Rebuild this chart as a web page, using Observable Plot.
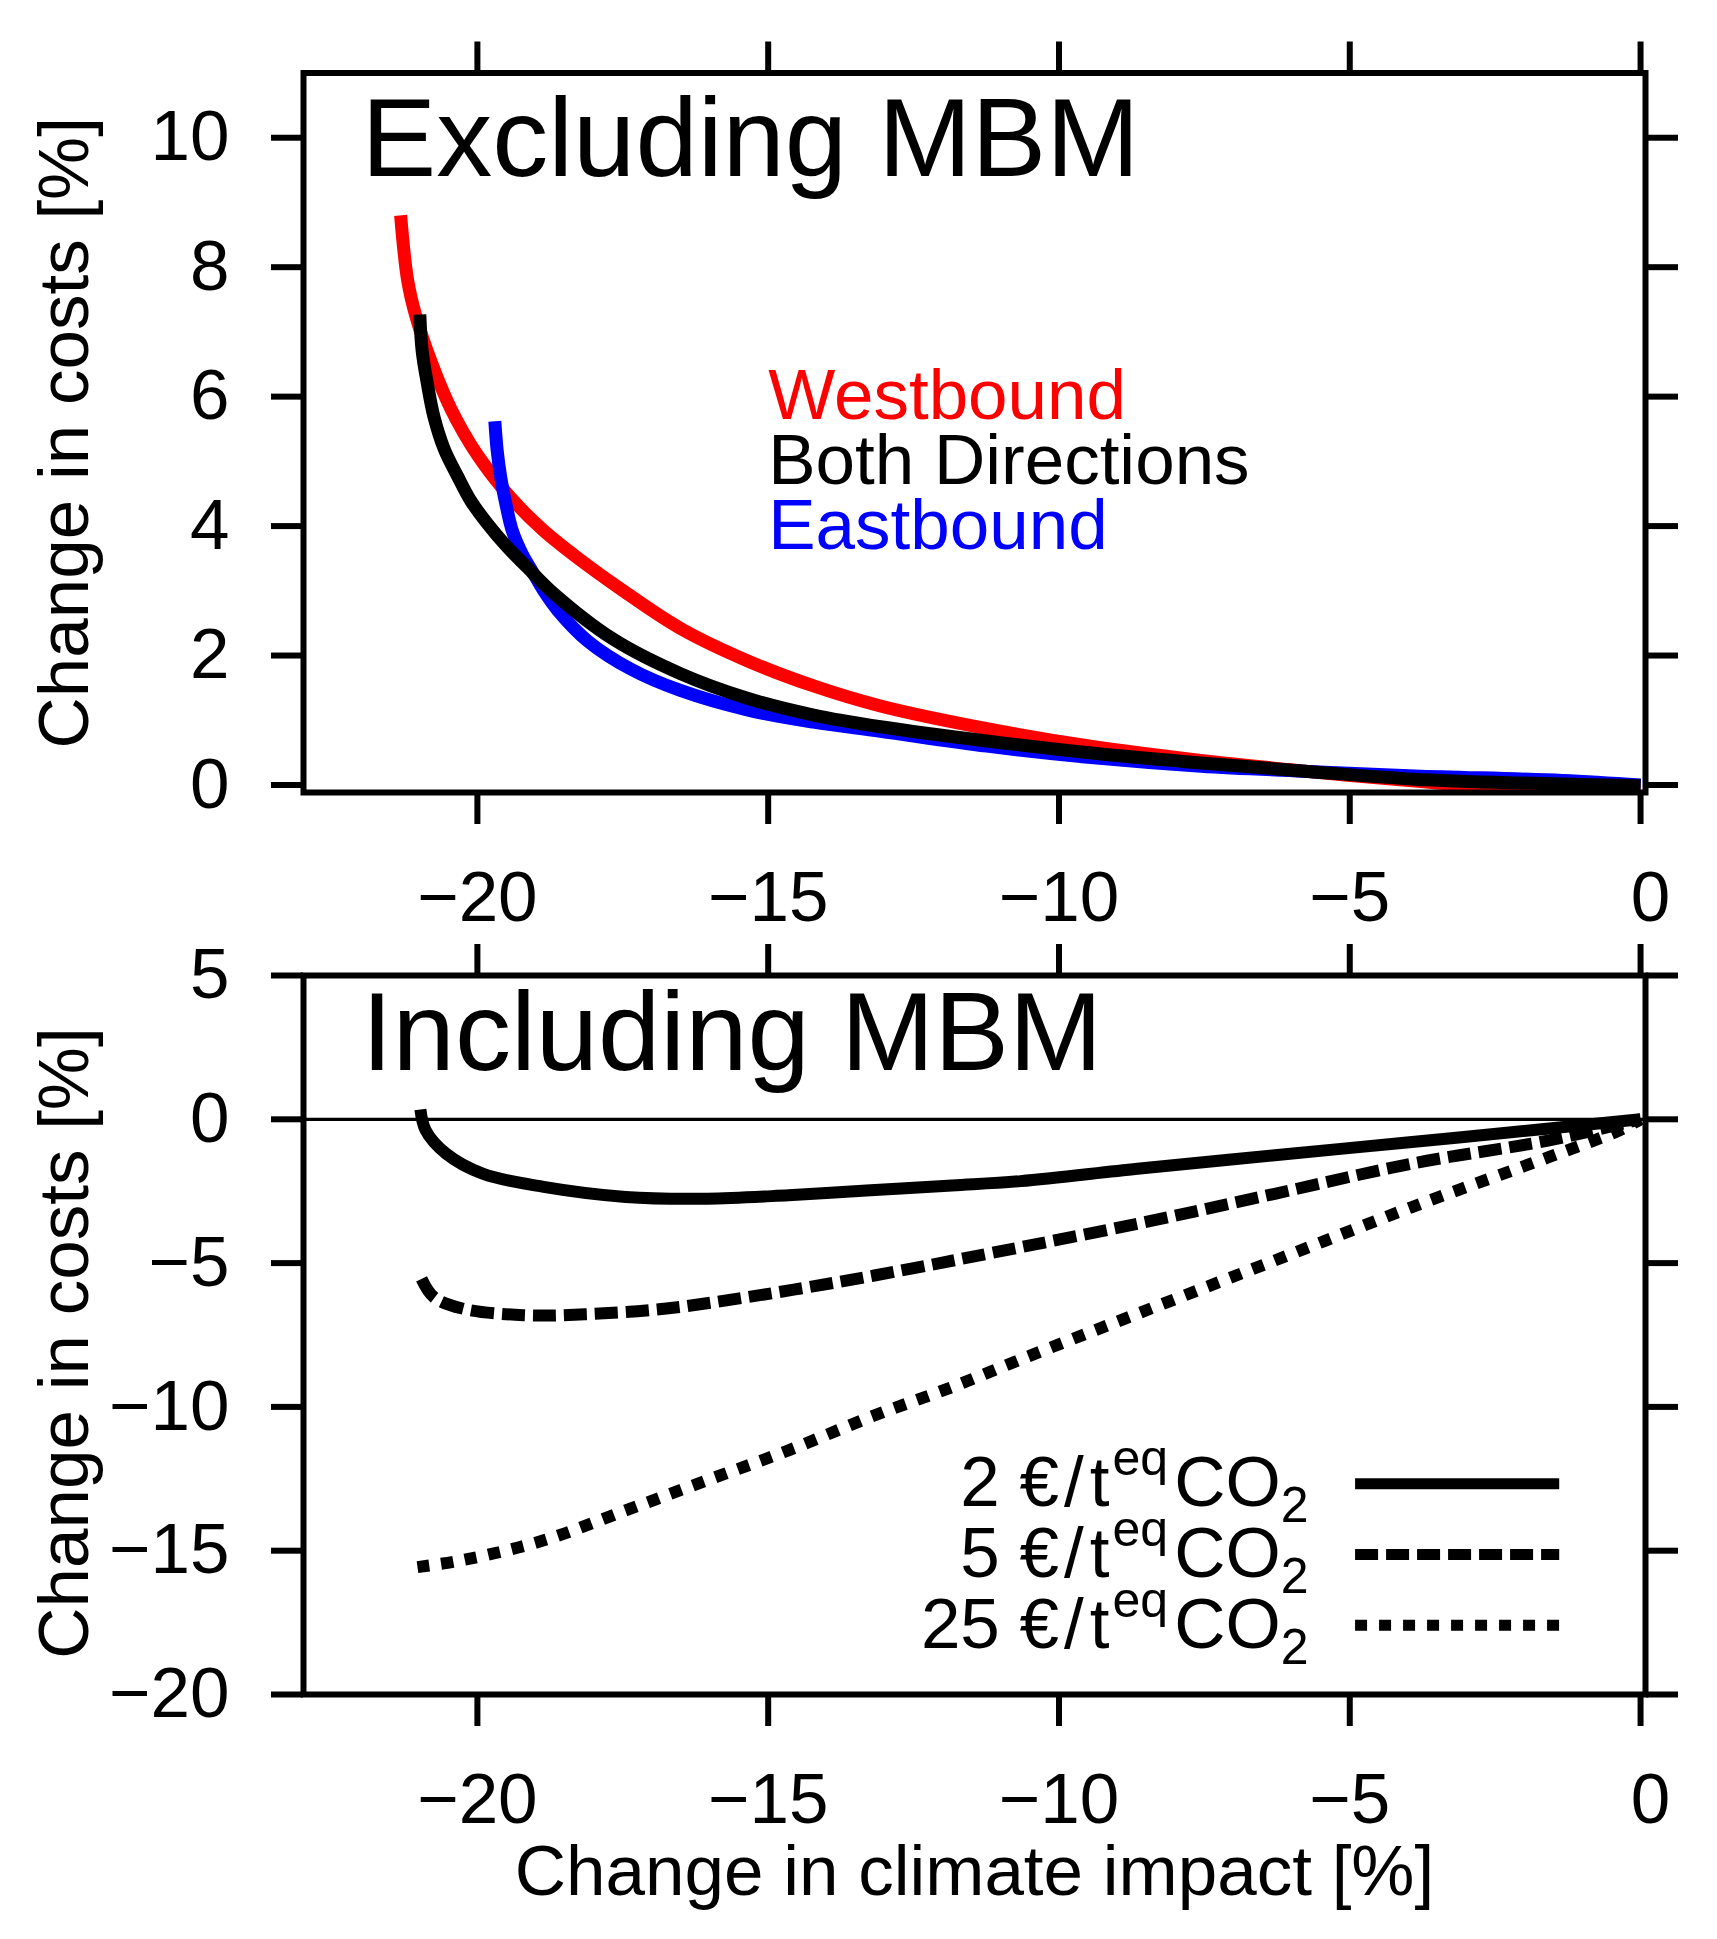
<!DOCTYPE html>
<html>
<head>
<meta charset="utf-8">
<script src="https://cdn.jsdelivr.net/npm/d3@7"></script>
<script src="https://cdn.jsdelivr.net/npm/@observablehq/plot@0.6"></script>
<style>
  html, body { margin: 0; padding: 0; background: #fff; }
  #chart { width: 1717px; }
  #chart svg { display: block; }
</style>
</head>
<body>
<div id="chart"></div>
<script>
// ---------- data ----------
const xTicks = [-20, -15, -10, -5, 0];
const yTicksTop = [0, 2, 4, 6, 8, 10];
const yTicksBottom = [-20, -15, -10, -5, 0, 5];

// Excluding MBM
const westX = [-21.32, -21.20, -21.06, -20.80, -20.46, -20.00, -19.43, -18.86, -18.22, -17.54, -16.51, -15.36, -14.22, -13.07, -11.24, -9.40, -7.56, -5.72, -3.88, -2.96, 0];
const westY = [8.80, 7.80, 7.25, 6.55, 5.82, 5.10, 4.44, 3.93, 3.47, 3.03, 2.42, 1.92, 1.53, 1.22, 0.87, 0.59, 0.38, 0.21, 0.06, 0.00, -0.03];

const bothX = [-20.99, -20.95, -20.86, -20.75, -20.57, -20.34, -20.12, -19.83, -19.48, -19.14, -18.74, -17.66, -16.51, -15.36, -14.22, -13.07, -11.24, -9.40, -7.56, -5.72, -3.88, -2.04, 0];
const bothY = [7.27, 6.71, 6.20, 5.70, 5.19, 4.77, 4.40, 4.04, 3.67, 3.36, 3.00, 2.25, 1.72, 1.34, 1.08, 0.90, 0.68, 0.49, 0.34, 0.21, 0.09, 0.03, -0.01];

const eastX = [-19.70, -19.66, -19.60, -19.51, -19.40, -19.23, -19.03, -18.86, -18.62, -18.11, -17.36, -16.51, -15.36, -14.22, -13.07, -11.24, -9.40, -7.56, -5.72, -3.88, -1.34, 0];
const eastY = [5.62, 5.17, 4.76, 4.34, 3.93, 3.57, 3.26, 3.00, 2.70, 2.23, 1.79, 1.46, 1.16, 0.97, 0.83, 0.60, 0.42, 0.29, 0.21, 0.14, 0.07, 0.00];

// Including MBM
const p2X = [-20.98, -20.89, -20.54, -19.91, -18.86, -17.45, -16.05, -14.65, -13.24, -11.84, -10.66, -8.65, -6.29, -3.93, -1.57, 0];
const p2Y = [0.34, -0.38, -1.19, -1.89, -2.35, -2.70, -2.76, -2.64, -2.47, -2.30, -2.15, -1.72, -1.25, -0.79, -0.32, 0];

const p5X = [-20.96, -20.75, -20.26, -19.21, -18.15, -16.75, -15.35, -13.94, -12.54, -11.14, -8.65, -6.29, -3.93, -1.57, 0];
const p5Y = [-5.55, -6.18, -6.58, -6.81, -6.78, -6.58, -6.18, -5.71, -5.19, -4.64, -3.63, -2.59, -1.54, -0.73, 0];

const p25X = [-21.03, -20.26, -18.86, -17.45, -16.05, -14.65, -13.24, -11.84, -10.66, -8.65, -6.29, -3.93, -1.57, -0.36, 0];
const p25Y = [-15.57, -15.33, -14.64, -13.60, -12.55, -11.51, -10.35, -9.31, -8.35, -6.76, -4.91, -3.05, -1.31, -0.38, 0];

const directions = ["Westbound", "Both Directions", "Eastbound"];
const directionColors = ["#ff0000", "#000000", "#0000ff"];
const prices = ["2", "5", "25"];
const priceDashes = ["none", "23,8", "12,12"];

// ---------- helpers ----------
const series = (xs, ys) => xs.map((x, i) => ({x, y: ys[i]}));
const FONT = "'Liberation Sans', Arial, Helvetica, sans-serif";
const W = 1717;
const xDomain = [-22.99, 0.085];
const FS = 71;
const fmtTick = d => d < 0 ? "\u2212" + Math.abs(d) : String(d);

function axes(yTicks) {
  return [
    Plot.frame({stroke: "black", strokeWidth: 6}),
    Plot.axisX({anchor: "bottom", ticks: xTicks, tickSize: 32, tickFormat: () => "", strokeWidth: 6, label: null}),
    Plot.text(xTicks.filter(d => d !== 0), {x: d => d, text: fmtTick, frameAnchor: "bottom", dy: 78, lineAnchor: "top", textAnchor: "middle", fontSize: FS, fill: "black"}),
    Plot.text(xTicks.filter(d => d === 0), {x: d => d, text: fmtTick, frameAnchor: "bottom", dx: 10, dy: 78, lineAnchor: "top", textAnchor: "middle", fontSize: FS, fill: "black"}),
    Plot.axisX({anchor: "top", ticks: xTicks, tickSize: 32, tickFormat: () => "", strokeWidth: 6, label: null}),
    Plot.axisY({anchor: "left", ticks: yTicks, tickSize: 32, tickPadding: 42, tickFormat: fmtTick, strokeWidth: 6, fontSize: FS, label: null}),
    Plot.axisY({anchor: "right", ticks: yTicks, tickSize: 32, tickFormat: () => "", strokeWidth: 6, label: null})
  ];
}

const yTitle = (dy) => Plot.text(["Change in costs [%]"], {
  frameAnchor: "left", rotate: -90, dx: -216, dy, lineAnchor: "bottom",
  textAnchor: "middle", fontSize: FS, fill: "black"
});

// ---------- top panel ----------
const topCurves = [
  {d: series(westX, westY), c: directionColors[0]},
  {d: series(eastX, eastY), c: directionColors[2]},
  {d: series(bothX, bothY), c: directionColors[1]}
];
const legendYTop = [5.65, 4.65, 3.65];

const topPlot = Plot.plot({
  width: W, height: 935,
  marginLeft: 303, marginRight: 72, marginTop: 72.5, marginBottom: 143,
  style: {fontFamily: FONT, background: "white", color: "black", overflow: "visible"},
  x: {domain: xDomain},
  y: {domain: [-0.116, 11]},
  marks: [
    ...topCurves.map(s => Plot.line(s.d, {x: "x", y: "y", stroke: s.c, strokeWidth: 13, curve: "catmull-rom", strokeLinecap: "butt", strokeLinejoin: "round", clip: true})),
    ...axes(yTicksTop),
    yTitle(0),
    Plot.text(["Excluding MBM"], {frameAnchor: "top-left", dx: 58, dy: 103, lineAnchor: "bottom", textAnchor: "start", fontSize: 112, fill: "black"}),
    ...directions.map((name, i) => Plot.text([{x: -15, y: legendYTop[i], t: name}], {x: "x", y: "y", text: "t", textAnchor: "start", lineAnchor: "bottom", fontSize: FS, fill: directionColors[i]}))
  ]
});

// ---------- bottom panel ----------
const bottomCurves = [
  {d: series(p2X, p2Y), dash: priceDashes[0]},
  {d: series(p5X, p5Y), dash: priceDashes[1]},
  {d: series(p25X, p25Y), dash: priceDashes[2]}
];
const legendLineY = [-12.67, -15.13, -17.59];
const legendTextY = [-13.45, -15.91, -18.37];

const bottomPlot = Plot.plot({
  width: W, height: 1004,
  marginLeft: 303, marginRight: 72, marginTop: 40, marginBottom: 245,
  style: {fontFamily: FONT, background: "white", color: "black", overflow: "visible"},
  x: {domain: xDomain},
  y: {domain: [-20, 5]},
  marks: [
    Plot.ruleY([0], {stroke: "black", strokeWidth: 3.3}),
    ...bottomCurves.map(s => Plot.line(s.d, {x: "x", y: "y", stroke: "black", strokeWidth: 12, strokeDasharray: s.dash, curve: "catmull-rom", strokeLinecap: "butt", strokeLinejoin: "round", clip: true})),
    ...axes(yTicksBottom),
    yTitle(8),
    Plot.text(["Including MBM"], {frameAnchor: "top-left", dx: 58, dy: 94, lineAnchor: "bottom", textAnchor: "start", fontSize: 112, fill: "black"}),
    Plot.text(["Change in climate impact [%]"], {frameAnchor: "bottom", dy: 200, lineAnchor: "bottom", textAnchor: "middle", fontSize: FS, fill: "black"}),
    ...prices.map((p, i) => Plot.ruleY([legendLineY[i]], {x1: -4.90, x2: -1.39, stroke: "black", strokeWidth: 11, strokeDasharray: priceDashes[i], strokeLinecap: "butt"})),
    ...prices.map((p, i) => Plot.text([{x: -5.71, y: legendTextY[i], t: `${p} €/teqCO2`}], {x: "x", y: "y", text: "t", textAnchor: "end", lineAnchor: "bottom", fontSize: FS, fill: "black"}))
  ]
});

// rebuild legend labels with superscript / subscript
d3.select(bottomPlot).selectAll("text").filter(function () { return this.textContent.includes("€"); })
  .each(function () {
    const price = this.textContent.split(" ")[0];
    const t = d3.select(this);
    t.text(null);
    t.append("tspan").text(`${price} €`);
    t.append("tspan").attr("dx", 5).text("/");
    t.append("tspan").attr("dx", 6).text("t");
    t.append("tspan").attr("font-size", 50).attr("dy", -31).attr("dx", 3).text("eq");
    t.append("tspan").attr("font-size", FS).attr("dy", 31).attr("dx", 6).text("CO");
    t.append("tspan").attr("font-size", 50).attr("dy", 16).text("2");
  });

document.getElementById("chart").append(topPlot, bottomPlot);
</script>
</body>
</html>
